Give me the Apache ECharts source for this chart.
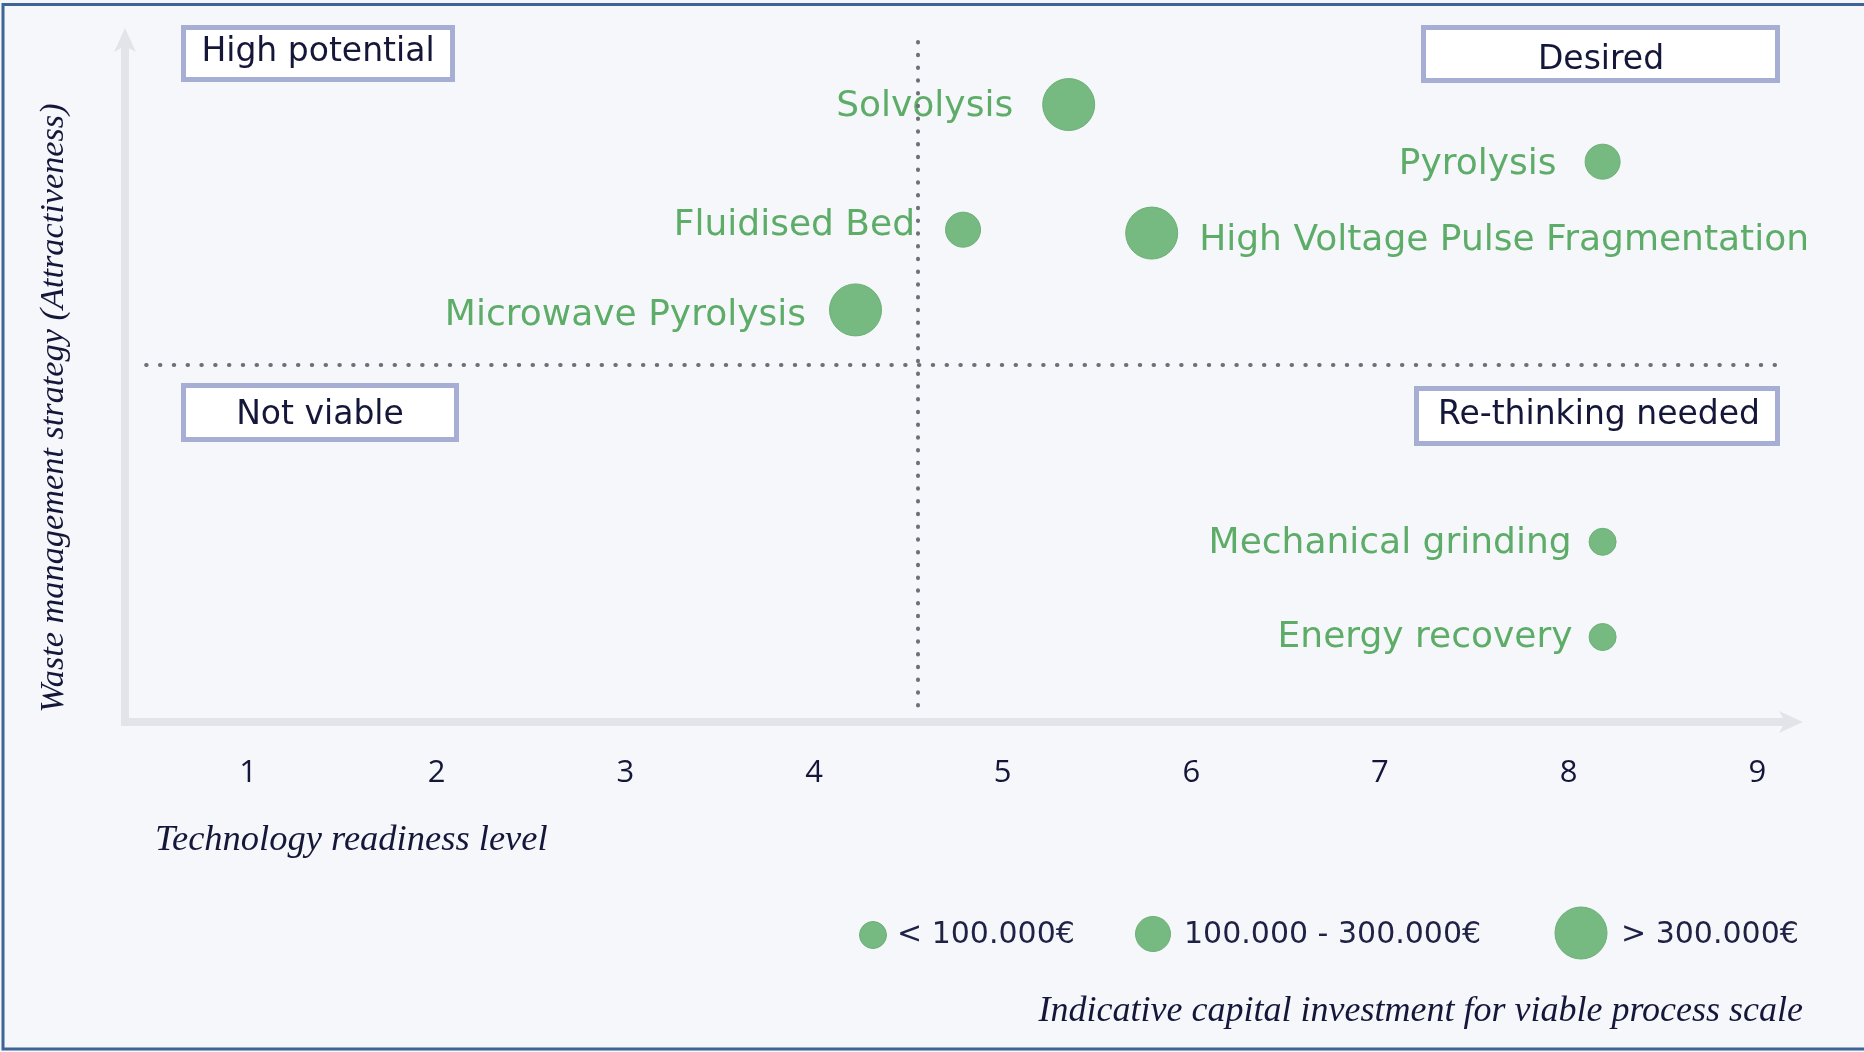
<!DOCTYPE html>
<html>
<head>
<meta charset="utf-8">
<title>Recycling technologies – readiness vs. attractiveness</title>
<script src="https://cdn.jsdelivr.net/npm/echarts@6/dist/echarts.min.js"></script>
<style>
  html, body { margin: 0; padding: 0; background: #f6f7fb; }
  #chart { width: 1864px; height: 1052px; }
</style>
</head>
<body>
<div id="chart"></div>
<script>
// ---- data ---------------------------------------------------------------
const techNames = [
  'Solvolysis',
  'Pyrolysis',
  'Fluidised Bed',
  'High Voltage Pulse Fragmentation',
  'Microwave Pyrolysis',
  'Mechanical grinding',
  'Energy recovery'
];
// Technology readiness level (x)
const readiness = [5.35, 8.18, 4.79, 5.79, 4.22, 8.18, 8.18];
// Waste management strategy / attractiveness (y, unitless 0–10)
const attractiveness = [9.08, 8.24, 7.24, 7.19, 6.06, 2.65, 1.25];
// Capital investment class: 0 = < 100k, 1 = 100k–300k, 2 = > 300k
const investmentClass = [2, 1, 1, 2, 2, 0, 0];
const investmentLabels = ['< 100.000€', '100.000 - 300.000€', '> 300.000€'];
const trlTicks = [1, 2, 3, 4, 5, 6, 7, 8, 9];
const quadrantNames = ['High potential', 'Desired', 'Not viable', 'Re-thinking needed'];
const trlDivider = 4.55;
const attractivenessDivider = 5.25;

// ---- styling ------------------------------------------------------------
const bubbleSizes = [27, 35, 52];
const GREEN = '#76b981';
const GREEN_TEXT = '#5dac68';
const NAVY = '#15173a';
const AXIS_GREY = '#e3e4e9';
const SANS = '"DejaVu Sans", "Noto Sans", sans-serif';
const SERIF_IT = '"Liberation Serif", "DejaVu Serif", serif';

const labelPlacement = {
  'Solvolysis':                       { position: 'left',  distance: 29, offset: [0, 2] },
  'Pyrolysis':                        { position: 'left',  distance: 28, offset: [0, 3] },
  'Fluidised Bed':                    { position: 'left',  distance: 30, offset: [0, -4] },
  'High Voltage Pulse Fragmentation': { position: 'right', distance: 21, offset: [0, 8] },
  'Microwave Pyrolysis':              { position: 'left',  distance: 23, offset: [0, 6] },
  'Mechanical grinding':              { position: 'left',  distance: 17, offset: [0, 2] },
  'Energy recovery':                  { position: 'left',  distance: 16, offset: [0, 1] }
};

const points = techNames.map((name, i) => ({
  name: name,
  value: [readiness[i], attractiveness[i]],
  label: labelPlacement[name]
}));

// quadrant captions: [left, top, right, bottom] outer box, text centre
const quadrantBoxes = [
  { box: [181, 25, 455, 82],   text: [318, 52] },
  { box: [1421, 25, 1780, 83], text: [1601, 60] },
  { box: [181, 383, 459, 442], text: [320, 415] },
  { box: [1414, 386, 1780, 446], text: [1599, 415] }
];

const graphics = [];

// outer frame
graphics.push({
  type: 'rect', silent: true, z: 0,
  shape: { x: 3, y: 4.5, width: 1880, height: 1044.5 },
  style: { fill: null, stroke: '#3d6597', lineWidth: 3 }
});

quadrantNames.forEach((label, i) => {
  const q = quadrantBoxes[i];
  const bw = 5;
  graphics.push({
    type: 'rect', silent: true, z: 5,
    shape: {
      x: q.box[0] + bw / 2, y: q.box[1] + bw / 2,
      width: q.box[2] - q.box[0] - bw, height: q.box[3] - q.box[1] - bw
    },
    style: { fill: '#ffffff', stroke: '#a7aed3', lineWidth: bw }
  });
  graphics.push({
    type: 'text', silent: true, z: 6,
    x: q.text[0], y: q.text[1],
    style: {
      text: label, fill: NAVY, font: '33px ' + SANS,
      align: 'center', verticalAlign: 'middle'
    }
  });
});

// axis titles
graphics.push({
  type: 'text', silent: true, z: 5,
  x: 155, y: 840,
  style: {
    text: 'Technology readiness level', fill: NAVY,
    font: 'italic 36.5px ' + SERIF_IT, align: 'left', verticalAlign: 'middle'
  }
});
graphics.push({
  type: 'text', silent: true, z: 5,
  x: 54, y: 408, rotation: Math.PI / 2,
  style: {
    text: 'Waste management strategy (Attractiveness)', fill: NAVY,
    font: 'italic 34.3px ' + SERIF_IT, align: 'center', verticalAlign: 'middle'
  }
});

// size legend
const legendPos = [
  { c: [873, 935], t: 897 },
  { c: [1153, 934], t: 1184 },
  { c: [1581, 933], t: 1621 }
];
investmentLabels.forEach((label, i) => {
  graphics.push({
    type: 'circle', silent: true, z: 5,
    shape: { cx: legendPos[i].c[0], cy: legendPos[i].c[1], r: bubbleSizes[i] / 2 },
    style: { fill: GREEN, stroke: '#6cb077', lineWidth: 1 }
  });
  graphics.push({
    type: 'text', silent: true, z: 5,
    x: legendPos[i].t, y: 935,
    style: {
      text: label, fill: '#1f2145', font: '30px ' + SANS,
      align: 'left', verticalAlign: 'middle'
    }
  });
});
graphics.push({
  type: 'text', silent: true, z: 5,
  x: 1803, y: 1012,
  style: {
    text: 'Indicative capital investment for viable process scale', fill: NAVY,
    font: 'italic 36px ' + SERIF_IT, align: 'right', verticalAlign: 'middle'
  }
});

const dotted = (gap) => ({ color: '#6e6f78', width: 4, type: [0.5, gap], cap: 'round' });

const axisLineStyle = {
  show: true, onZero: false,
  symbol: ['none', 'arrow'], symbolSize: [16.5, 24], symbolOffset: [0, 14],
  lineStyle: { color: AXIS_GREY, width: 8, cap: 'square' }
};

const option = {
  animation: false,
  backgroundColor: '#f6f7fb',
  grid: { left: 125, right: 75, top: 42, bottom: 330, containLabel: false },
  xAxis: {
    type: 'value',
    min: 0.348,
    max: 9.168,
    axisLine: axisLineStyle,
    axisTick: { show: false },
    splitLine: { show: false },
    axisLabel: {
      customValues: trlTicks,
      margin: 36,
      color: NAVY,
      fontFamily: '"Open Sans", "Noto Sans", sans-serif',
      fontSize: 31
    }
  },
  yAxis: {
    type: 'value',
    min: 0,
    max: 10,
    axisLine: axisLineStyle,
    axisTick: { show: false },
    splitLine: { show: false },
    axisLabel: { show: false }
  },
  series: [{
    type: 'scatter',
    clip: false,
    data: points,
    symbolSize: (val, params) => bubbleSizes[investmentClass[params.dataIndex]],
    itemStyle: { color: GREEN, borderColor: '#6cb077', borderWidth: 1, opacity: 1 },
    label: {
      show: true,
      formatter: '{b}',
      color: GREEN_TEXT,
      fontFamily: SANS,
      fontSize: 36
    },
    emphasis: { disabled: true },
    markLine: {
      silent: true,
      symbol: ['none', 'none'],
      label: { show: false },
      emphasis: { disabled: true },
      data: [
        [
          { coord: [trlDivider, 10], lineStyle: dotted(12.25) },
          { coord: [trlDivider, 0.22] }
        ],
        [
          { coord: [0.46, attractivenessDivider], lineStyle: dotted(13.3) },
          { coord: [9.11, attractivenessDivider] }
        ]
      ]
    },
    z: 3
  }],
  graphic: graphics
};

const chart = echarts.init(document.getElementById('chart'), null, { renderer: 'canvas' });
chart.setOption(option);
</script>
</body>
</html>
